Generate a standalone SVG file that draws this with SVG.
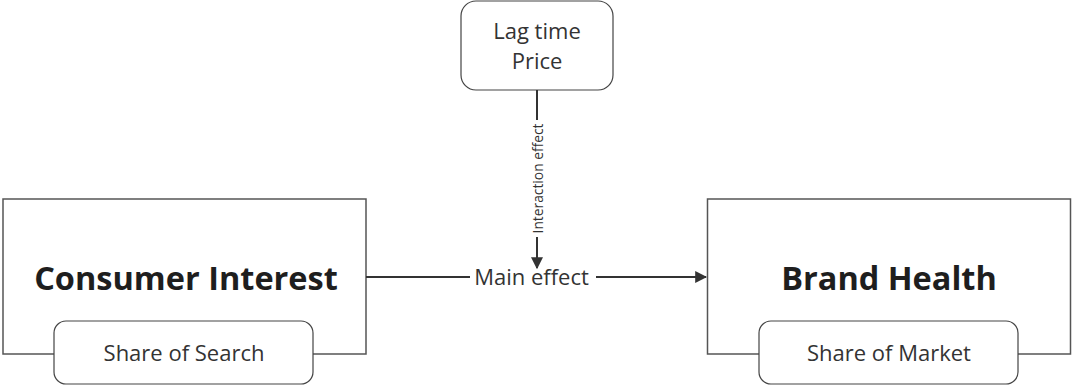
<svg xmlns="http://www.w3.org/2000/svg" width="1072" height="385" viewBox="0 0 1072 385">
<defs>
<style>
.box{fill:#fff;stroke:#555;stroke-width:1.5}
.sub{fill:#fff;stroke:#444;stroke-width:1.2}
.t{font-family:"Open Sans",sans-serif;fill:#333;text-anchor:middle}
.big{font-size:32.5px;font-weight:700;fill:#1e1e1e}
.mid{font-size:22px}
.sm{font-size:13.8px}
.ln{stroke:#333;stroke-width:2;fill:none}
</style>
<marker id="ah" viewBox="0 0 10 10" refX="9" refY="5" markerWidth="6" markerHeight="6" orient="auto" markerUnits="strokeWidth">
<path d="M0,0 L10,5 L0,10 z" fill="#333"/>
</marker>
</defs>
<rect width="1072" height="385" fill="#fff"/>
<g id="consumer-interest">
<rect class="box" x="3" y="199" width="363" height="155"/>
<text class="t big" x="186" y="290">Consumer Interest</text>
</g>
<g id="share-of-search">
<rect class="sub" x="54" y="321" width="259" height="63" rx="12"/>
<text class="t mid" x="184" y="361">Share of Search</text>
</g>
<g id="brand-health">
<rect class="box" x="707.5" y="199" width="363" height="155"/>
<text class="t big" x="889" y="290">Brand Health</text>
</g>
<g id="share-of-market">
<rect class="sub" x="759" y="321" width="259" height="63" rx="12"/>
<text class="t mid" x="889" y="361">Share of Market</text>
</g>
<g id="lag-time-price">
<rect class="sub" x="461" y="1" width="152" height="89" rx="15"/>
<text class="t mid" x="537" y="39">Lag time</text>
<text class="t mid" x="537" y="69">Price</text>
</g>
<g id="connectors">
<line class="ln" x1="366" y1="277" x2="470" y2="277"/>
<line class="ln" x1="596" y1="277" x2="706" y2="277" marker-end="url(#ah)"/>
<text class="t mid" x="531.5" y="285">Main effect</text>
<line class="ln" x1="537" y1="90" x2="537" y2="120"/>
<line class="ln" x1="537" y1="237" x2="537" y2="268" marker-end="url(#ah)"/>
<text class="t sm" transform="translate(542.5,178.5) rotate(-90)" x="0" y="0">Interaction effect</text>
</g>
</svg>
